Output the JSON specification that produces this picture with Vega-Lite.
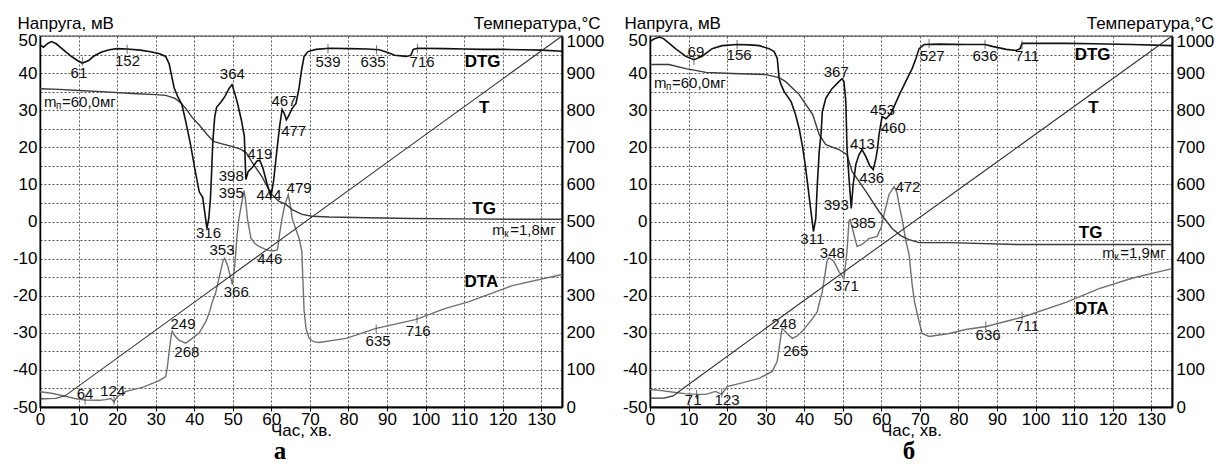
{
  "$schema": "https://vega.github.io/schema/vega-lite/v6.json",
  "background": "white",
  "padding": {"left": 11, "top": 13, "right": 0, "bottom": 0},
  "spacing": 88,
  "bounds": "flush",
  "config": {"font": "Liberation Sans", "view": {"stroke": "#9a9a9a", "strokeWidth": 2}},
  "datasets": {
    "dtg_a": [
      {"t":0,"v":47.6},{"t":0.9,"v":47},{"t":2,"v":48},{"t":3,"v":48.5},{"t":4.2,"v":47.9},{"t":6,"v":46.3},{"t":8,"v":44.6},{"t":10,"v":43.2},{"t":11,"v":42.7},{"t":12.5,"v":43.3},{"t":14,"v":44.6},{"t":16,"v":45.7},{"t":18,"v":46.3},{"t":20,"v":46.6},{"t":22.6,"v":46.5},{"t":26,"v":46.2},{"t":29,"v":45.7},{"t":31,"v":45.2},{"t":32.6,"v":44.5},{"t":33.5,"v":42.5},{"t":34.2,"v":39},{"t":34.8,"v":36},{"t":35.8,"v":33.5},{"t":36.8,"v":31.5},{"t":37.8,"v":27},{"t":39,"v":21},{"t":40.2,"v":14},{"t":41.3,"v":8},{"t":42.2,"v":6.5},{"t":42.8,"v":2},{"t":43.3,"v":-1.9},{"t":43.8,"v":1},{"t":44.2,"v":6},{"t":44.5,"v":13},{"t":44.8,"v":21},{"t":45.3,"v":28},{"t":45.8,"v":30.8},{"t":47,"v":32.3},{"t":48,"v":33.8},{"t":49,"v":35.8},{"t":49.8,"v":36.9},{"t":50.4,"v":35},{"t":51.2,"v":32},{"t":52.2,"v":27.5},{"t":53,"v":23},{"t":53.4,"v":11.3},{"t":54,"v":13.5},{"t":55,"v":14.5},{"t":56.3,"v":16.3},{"t":57,"v":16.5},{"t":57.8,"v":14.5},{"t":58.8,"v":10.5},{"t":59.9,"v":6.7},{"t":60.6,"v":11},{"t":61.5,"v":19.7},{"t":62.2,"v":26},{"t":62.8,"v":30.2},{"t":63.4,"v":29},{"t":63.9,"v":27.4},{"t":64.5,"v":28.5},{"t":65.4,"v":30.5},{"t":66.4,"v":31.8},{"t":67.2,"v":36},{"t":67.8,"v":40.5},{"t":68.5,"v":44.5},{"t":69.5,"v":45.8},{"t":71.6,"v":46.4},{"t":75,"v":46.7},{"t":80,"v":46.6},{"t":85,"v":46.5},{"t":88,"v":46.3},{"t":90,"v":45.6},{"t":92,"v":44.8},{"t":95,"v":44.5},{"t":96.2,"v":44.8},{"t":96.8,"v":46.4},{"t":98,"v":46.7},{"t":105,"v":46.6},{"t":110,"v":46.5},{"t":115,"v":46.4},{"t":120,"v":46.4},{"t":125,"v":46.3},{"t":130,"v":46.2},{"t":135.4,"v":45.9}
    ],
    "tg_a": [
      {"t":0,"v":35.8},{"t":5,"v":35.6},{"t":10,"v":35.3},{"t":16,"v":35},{"t":24,"v":34.5},{"t":30,"v":34.2},{"t":32.6,"v":34},{"t":35,"v":33.2},{"t":36.5,"v":32},{"t":37.8,"v":30.5},{"t":39.5,"v":28},{"t":41.3,"v":26},{"t":43.4,"v":23.4},{"t":45,"v":21.6},{"t":47,"v":21},{"t":50,"v":20.2},{"t":52,"v":19.5},{"t":53.5,"v":18.5},{"t":55,"v":16},{"t":57.6,"v":12},{"t":59.9,"v":7.5},{"t":62,"v":5.4},{"t":63.8,"v":4.6},{"t":65.4,"v":3.2},{"t":67,"v":2.4},{"t":68,"v":1.9},{"t":70.6,"v":1.4},{"t":75,"v":1.2},{"t":85,"v":1},{"t":96.5,"v":0.8},{"t":110,"v":0.7},{"t":125,"v":0.6},{"t":135.4,"v":0.6}
    ],
    "dta_a": [
      {"t":0,"v":-45.9},{"t":3,"v":-46.3},{"t":6.6,"v":-47.1},{"t":9,"v":-47.7},{"t":11.7,"v":-48.1},{"t":15.3,"v":-48.2},{"t":17,"v":-48},{"t":18.4,"v":-47.7},{"t":19.2,"v":-48.6},{"t":20,"v":-47.2},{"t":22.3,"v":-45.8},{"t":26.6,"v":-44.7},{"t":30.9,"v":-42.9},{"t":32.6,"v":-41.8},{"t":33,"v":-39.6},{"t":33.5,"v":-35},{"t":34,"v":-31},{"t":34.3,"v":-29.6},{"t":35,"v":-30.8},{"t":36,"v":-32},{"t":37.8,"v":-32.8},{"t":39.5,"v":-31.5},{"t":41.3,"v":-30},{"t":43,"v":-27},{"t":44,"v":-24.3},{"t":44.7,"v":-21.6},{"t":45.5,"v":-19.5},{"t":46.5,"v":-15},{"t":47.5,"v":-10.5},{"t":47.9,"v":-9.9},{"t":48.7,"v":-12},{"t":49.9,"v":-17},{"t":50.5,"v":-12},{"t":51.1,"v":-4},{"t":51.6,"v":0.8},{"t":52.9,"v":8.3},{"t":53.3,"v":6},{"t":53.8,"v":0.8},{"t":54.7,"v":-4.5},{"t":55.8,"v":-6},{"t":56.8,"v":-6.7},{"t":58.5,"v":-7.5},{"t":59.8,"v":-7.9},{"t":60.8,"v":-7.9},{"t":61.6,"v":-7.6},{"t":62.2,"v":-3},{"t":62.8,"v":0.9},{"t":63.5,"v":4.5},{"t":64.4,"v":7.2},{"t":65,"v":4},{"t":65.4,"v":0.9},{"t":66.5,"v":-2.5},{"t":67.2,"v":-4.5},{"t":67.9,"v":-8},{"t":68.5,"v":-24},{"t":69,"v":-28.8},{"t":69.8,"v":-31.5},{"t":71,"v":-32.4},{"t":72.4,"v":-32.6},{"t":79.4,"v":-31.5},{"t":87.2,"v":-28.8},{"t":97.6,"v":-26.4},{"t":105,"v":-23.5},{"t":111.3,"v":-21.6},{"t":122.5,"v":-17.3},{"t":135.4,"v":-14.3}
    ],
    "t_a": [
      {"t":0,"T":22},{"t":4,"T":23},{"t":6.5,"T":30},{"t":40.5,"T":286},{"t":94,"T":689},{"t":135.4,"T":1000}
    ],
    "tick_a": [
      {"t":11,"v":43.2},{"t":22.6,"v":46.4},{"t":74.7,"v":46.6},{"t":87.3,"v":46.3},{"t":97.9,"v":46.7},{"t":11.7,"v":-48.2},{"t":19.2,"v":-48.2},{"t":87.2,"v":-29},{"t":97.8,"v":-26.3}
    ],
    "lab_a": [
      {"t":10.1,"v":40,"label":"61"},{"t":22.7,"v":43.3,"label":"152"},{"t":49.9,"v":39.7,"label":"364"},{"t":63.3,"v":32.5,"label":"467"},{"t":65.8,"v":24.3,"label":"477"},{"t":57,"v":18.3,"label":"419"},{"t":49.6,"v":12.3,"label":"398"},{"t":49.6,"v":7.6,"label":"395"},{"t":59.4,"v":7.2,"label":"444"},{"t":43.7,"v":-3.2,"label":"316"},{"t":47.2,"v":-7.8,"label":"353"},{"t":50.9,"v":-19.1,"label":"366"},{"t":59.6,"v":-10.2,"label":"446"},{"t":67.2,"v":8.9,"label":"479"},{"t":37.1,"v":-27.7,"label":"249"},{"t":38.1,"v":-35.3,"label":"268"},{"t":11.7,"v":-46.6,"label":"64"},{"t":18.9,"v":-45.6,"label":"124"},{"t":74.7,"v":42.9,"label":"539"},{"t":86.4,"v":43.1,"label":"635"},{"t":99.1,"v":43.1,"label":"716"},{"t":87.7,"v":-32.1,"label":"635"},{"t":98.1,"v":-29.4,"label":"716"}
    ],
    "bold_a": [
      {"t":114.8,"v":43.1,"label":"DTG"},{"t":115.2,"v":30.7,"label":"T"},{"t":115.2,"v":3.4,"label":"TG"},{"t":114.5,"v":-16.4,"label":"DTA"}
    ],
    "m_a": [
      {"t":1.04,"v":32.3,"m":"m","sub":"п","rest":"=60,0мг"},{"t":117.3,"v":-2.2,"m":"m","sub":"к","rest":"=1,8мг"}
    ],
    "dtg_b": [
      {"t":0,"v":48.5},{"t":1,"v":49.2},{"t":2.4,"v":49.7},{"t":3.5,"v":49.3},{"t":5,"v":48},{"t":6.6,"v":46.6},{"t":9.3,"v":44.5},{"t":11.4,"v":43.6},{"t":13.5,"v":44.5},{"t":16.1,"v":46.6},{"t":18.7,"v":47.4},{"t":22.6,"v":47.7},{"t":26,"v":47.6},{"t":28.3,"v":47.4},{"t":30.9,"v":46.6},{"t":32.2,"v":45.8},{"t":33,"v":44},{"t":33.5,"v":38.5},{"t":34,"v":36.9},{"t":34.8,"v":35},{"t":36.6,"v":32.3},{"t":37.7,"v":29},{"t":38.7,"v":25},{"t":39.6,"v":20},{"t":40.3,"v":15},{"t":40.9,"v":10},{"t":41.6,"v":4},{"t":42.4,"v":-2.7},{"t":43,"v":0.8},{"t":43.4,"v":10},{"t":43.9,"v":18.9},{"t":44.4,"v":24},{"t":44.7,"v":29.6},{"t":45.6,"v":33.2},{"t":47.2,"v":35.8},{"t":49,"v":37.7},{"t":49.8,"v":38.5},{"t":50.3,"v":37.7},{"t":50.8,"v":32.3},{"t":51.1,"v":19.7},{"t":51.6,"v":12},{"t":52.2,"v":3.5},{"t":52.7,"v":10},{"t":53.4,"v":15.4},{"t":54.2,"v":18},{"t":55,"v":19.4},{"t":56,"v":17.5},{"t":57,"v":15},{"t":57.9,"v":14},{"t":58.6,"v":17},{"t":59,"v":19.5},{"t":59.4,"v":23.4},{"t":60.2,"v":28.3},{"t":61.2,"v":27.7},{"t":62.5,"v":29.1},{"t":64.6,"v":34},{"t":66.7,"v":38.5},{"t":68,"v":41.2},{"t":69,"v":44},{"t":69.8,"v":46.6},{"t":71.1,"v":47.7},{"t":75,"v":47.8},{"t":82,"v":47.7},{"t":86.9,"v":47.7},{"t":88.8,"v":47.2},{"t":92.4,"v":46.4},{"t":95,"v":46.1},{"t":96,"v":46.6},{"t":96.5,"v":48},{"t":100,"v":48},{"t":108,"v":48},{"t":115,"v":47.9},{"t":125,"v":47.7},{"t":135.4,"v":47.4}
    ],
    "tg_b": [
      {"t":0,"v":42.3},{"t":4.9,"v":42.3},{"t":9.3,"v":41.2},{"t":14.5,"v":40.2},{"t":21.3,"v":39.9},{"t":30.1,"v":39.6},{"t":33.5,"v":38.8},{"t":35.2,"v":37.7},{"t":38.7,"v":34.2},{"t":42.2,"v":28.8},{"t":43.9,"v":23.4},{"t":45.6,"v":20.7},{"t":49,"v":19.4},{"t":51.1,"v":18},{"t":52.4,"v":13.5},{"t":56,"v":8.1},{"t":59.4,"v":2.7},{"t":62.8,"v":-1.9},{"t":65,"v":-3.8},{"t":67.2,"v":-4.9},{"t":69.8,"v":-5.7},{"t":77.6,"v":-5.7},{"t":95,"v":-6.2},{"t":135.4,"v":-6.2}
    ],
    "dta_b": [
      {"t":0,"v":-45.3},{"t":3,"v":-45.6},{"t":6.6,"v":-46.1},{"t":9,"v":-46.4},{"t":12.2,"v":-46.6},{"t":14.5,"v":-46.6},{"t":17,"v":-45.8},{"t":18.6,"v":-46.6},{"t":20,"v":-44.5},{"t":23.1,"v":-43.7},{"t":28.3,"v":-42.3},{"t":31.7,"v":-40.4},{"t":33,"v":-37.7},{"t":34,"v":-30.5},{"t":34.3,"v":-28.8},{"t":35.6,"v":-30.2},{"t":36.9,"v":-31.5},{"t":38,"v":-31},{"t":39.5,"v":-29.6},{"t":42.2,"v":-26.1},{"t":43.4,"v":-24.3},{"t":44,"v":-21.6},{"t":44.7,"v":-18.9},{"t":45.9,"v":-10.8},{"t":46.4,"v":-9.7},{"t":47.7,"v":-10.8},{"t":49,"v":-13.5},{"t":50.3,"v":-15.4},{"t":51.1,"v":-8.1},{"t":51.6,"v":0},{"t":51.9,"v":0.5},{"t":52.9,"v":-3.5},{"t":53.7,"v":-6.7},{"t":55,"v":-6.2},{"t":56.8,"v":-4.6},{"t":58.9,"v":-4},{"t":60,"v":-1.5},{"t":60.7,"v":1.9},{"t":62,"v":7.3},{"t":63.3,"v":9.4},{"t":64,"v":8},{"t":64.6,"v":4.6},{"t":65.4,"v":0.5},{"t":66.4,"v":-5.4},{"t":67.2,"v":-8.9},{"t":68,"v":-17},{"t":68.6,"v":-21.6},{"t":69.2,"v":-24.3},{"t":69.8,"v":-27},{"t":70.6,"v":-30.2},{"t":72.4,"v":-31},{"t":77.6,"v":-30.2},{"t":81.9,"v":-29.1},{"t":87.2,"v":-28.3},{"t":96.5,"v":-25.8},{"t":107.9,"v":-21.8},{"t":116.5,"v":-18.1},{"t":125,"v":-15.3},{"t":135.4,"v":-12.7}
    ],
    "t_b": [
      {"t":0,"T":24},{"t":3.6,"T":24},{"t":6,"T":30},{"t":8.3,"T":48},{"t":39.4,"T":283},{"t":89.8,"T":659},{"t":135.4,"T":1000}
    ],
    "tick_b": [
      {"t":11.4,"v":43.3},{"t":22.6,"v":47.7},{"t":72.4,"v":48},{"t":86.9,"v":47.8},{"t":96.5,"v":47.6},{"t":12.1,"v":-46.6},{"t":18.6,"v":-46.2},{"t":87.1,"v":-28.1},{"t":96.5,"v":-25.5}
    ],
    "lab_b": [
      {"t":11.9,"v":45.8,"label":"69"},{"t":23.1,"v":45,"label":"156"},{"t":48.3,"v":40.2,"label":"367"},{"t":55.1,"v":20.8,"label":"413"},{"t":60.3,"v":30.1,"label":"453"},{"t":63.1,"v":25.2,"label":"460"},{"t":57.5,"v":11.7,"label":"436"},{"t":48.3,"v":4.5,"label":"393"},{"t":42.1,"v":-4.7,"label":"311"},{"t":55.3,"v":-0.3,"label":"385"},{"t":66.9,"v":9.4,"label":"472"},{"t":47.3,"v":-8.5,"label":"348"},{"t":50.9,"v":-17.5,"label":"371"},{"t":34.7,"v":-27.7,"label":"248"},{"t":37.8,"v":-34.8,"label":"265"},{"t":11.2,"v":-48,"label":"71"},{"t":20,"v":-48.2,"label":"123"},{"t":73.2,"v":44.5,"label":"527"},{"t":86.9,"v":44.5,"label":"636"},{"t":97.8,"v":44.5,"label":"711"},{"t":87.7,"v":-30.5,"label":"636"},{"t":97.8,"v":-28.3,"label":"711"}
    ],
    "bold_b": [
      {"t":114.8,"v":44.9,"label":"DTG"},{"t":115,"v":30.7,"label":"T"},{"t":114.3,"v":-3.1,"label":"TG"},{"t":114.6,"v":-23.5,"label":"DTA"}
    ],
    "m_b": [
      {"t":1.04,"v":37.2,"m":"m","sub":"п","rest":"=60,0мг"},{"t":117.3,"v":-8.6,"m":"m","sub":"к","rest":"=1,9мг"}
    ]
  },
  "hconcat": [
    {
      "width": 522, "height": 371,
      "title": {"text": "а", "orient": "bottom", "font": "Liberation Serif", "fontSize": 25, "fontWeight": "bold", "color": "#000", "dx": -21, "offset": 1},
      "encoding": {"x": {"field": "t", "type": "quantitative", "scale": {"domain": [0, 135.4], "nice": false, "zero": false},
        "axis": {"values": [0,10,20,30,40,50,60,70,80,90,100,110,120,130], "grid": true, "gridDash": [2,2], "gridColor": "#555", "domainColor": "#000", "domainWidth": 2, "tickColor": "#000", "tickSize": 4, "labelPadding": 0, "labelFontSize": 17, "labelColor": "#000", "labelFlush": false, "title": "Час, хв.", "titleFontSize": 17, "titleFontWeight": "normal", "titleColor": "#000", "titleBaseline": "middle", "titleY": 23}}},
      "layer": [
        {
          "encoding": {"y": {"field": "v", "type": "quantitative", "scale": {"domain": [-50, 50], "nice": false, "zero": false},
            "axis": {"values": [-50,-45,-40,-35,-30,-25,-20,-15,-10,-5,0,5,10,15,20,25,30,35,40,45,50], "labelExpr": "datum.value % 10 === 0 ? '' + datum.value : ''", "labelOffset": {"condition": {"test": "datum.value === 50", "value": 4}, "value": 0}, "grid": true, "gridDash": [2,2], "gridColor": "#555", "domainColor": "#000", "domainWidth": 1.5, "ticks": false, "labelPadding": 3, "labelFontSize": 17, "labelColor": "#000", "title": "Напруга, мВ", "titleAngle": 0, "titleAlign": "left", "titleBaseline": "middle", "titleX": -23, "titleY": -13, "titleFontSize": 17, "titleFontWeight": "normal", "titleColor": "#000"}}},
          "layer": [
            {"data": {"name": "dta_a"}, "mark": {"type": "line", "color": "#707070", "strokeWidth": 1.4}, "encoding": {}},
            {"data": {"name": "tg_a"}, "mark": {"type": "line", "color": "#3a3a3a", "strokeWidth": 1.4}, "encoding": {}},
            {"data": {"name": "dtg_a"}, "mark": {"type": "line", "color": "#111", "strokeWidth": 1.6}, "encoding": {}},
            {"data": {"name": "tick_a"}, "mark": {"type": "tick", "orient": "vertical", "size": 9, "thickness": 1, "color": "#333"}},
            {"data": {"name": "lab_a"}, "mark": {"type": "text", "fontSize": 15, "color": "#111"}, "encoding": {"text": {"field": "label"}}},
            {"data": {"name": "bold_a"}, "mark": {"type": "text", "fontSize": 17, "fontWeight": "bold", "color": "#000"}, "encoding": {"text": {"field": "label"}}},
            {"data": {"name": "m_a"}, "mark": {"type": "text", "fontSize": 15, "align": "left", "color": "#111"}, "encoding": {"text": {"field": "m"}}},
            {"data": {"name": "m_a"}, "mark": {"type": "text", "fontSize": 10, "align": "left", "dx": 12, "dy": 4, "color": "#111"}, "encoding": {"text": {"field": "sub"}}},
            {"data": {"name": "m_a"}, "mark": {"type": "text", "fontSize": 15, "align": "left", "dx": 18, "color": "#111"}, "encoding": {"text": {"field": "rest"}}}
          ]
        },
        {
          "data": {"name": "t_a"},
          "mark": {"type": "line", "color": "#333", "strokeWidth": 1.1},
          "encoding": {"y": {"field": "T", "type": "quantitative", "scale": {"domain": [0, 1000], "nice": false, "zero": false},
            "axis": {"orient": "right", "values": [0,100,200,300,400,500,600,700,800,900,1000], "labelExpr": "'' + datum.value", "labelOffset": {"condition": {"test": "datum.value === 1000", "value": 5}, "value": 0}, "grid": false, "domainColor": "#000", "domainWidth": 2, "ticks": false, "labelPadding": 4, "labelFontSize": 17, "labelColor": "#000", "title": "Температура,°C", "titleAngle": 0, "titleAlign": "right", "titleBaseline": "middle", "titleX": 38, "titleY": -13, "titleFontSize": 17, "titleFontWeight": "normal", "titleColor": "#000"}}}
        }
      ],
      "resolve": {"scale": {"y": "independent"}}
    },
    {
      "width": 522, "height": 371,
      "title": {"text": "б", "orient": "bottom", "font": "Liberation Serif", "fontSize": 25, "fontWeight": "bold", "color": "#000", "dx": -2, "offset": 1},
      "encoding": {"x": {"field": "t", "type": "quantitative", "scale": {"domain": [0, 135.4], "nice": false, "zero": false},
        "axis": {"values": [0,10,20,30,40,50,60,70,80,90,100,110,120,130], "grid": true, "gridDash": [2,2], "gridColor": "#555", "domainColor": "#000", "domainWidth": 2, "tickColor": "#000", "tickSize": 4, "labelPadding": 0, "labelFontSize": 17, "labelColor": "#000", "labelFlush": false, "title": "Час, хв.", "titleFontSize": 17, "titleFontWeight": "normal", "titleColor": "#000", "titleBaseline": "middle", "titleY": 23}}},
      "layer": [
        {
          "encoding": {"y": {"field": "v", "type": "quantitative", "scale": {"domain": [-50, 50], "nice": false, "zero": false},
            "axis": {"values": [-50,-45,-40,-35,-30,-25,-20,-15,-10,-5,0,5,10,15,20,25,30,35,40,45,50], "labelExpr": "datum.value % 10 === 0 ? '' + datum.value : ''", "labelOffset": {"condition": {"test": "datum.value === 50", "value": 4}, "value": 0}, "grid": true, "gridDash": [2,2], "gridColor": "#555", "domainColor": "#000", "domainWidth": 1.5, "ticks": false, "labelPadding": 3, "labelFontSize": 17, "labelColor": "#000", "title": "Напруга, мВ", "titleAngle": 0, "titleAlign": "left", "titleBaseline": "middle", "titleX": -26, "titleY": -13, "titleFontSize": 17, "titleFontWeight": "normal", "titleColor": "#000"}}},
          "layer": [
            {"data": {"name": "dta_b"}, "mark": {"type": "line", "color": "#707070", "strokeWidth": 1.4}, "encoding": {}},
            {"data": {"name": "tg_b"}, "mark": {"type": "line", "color": "#3a3a3a", "strokeWidth": 1.4}, "encoding": {}},
            {"data": {"name": "dtg_b"}, "mark": {"type": "line", "color": "#111", "strokeWidth": 1.6}, "encoding": {}},
            {"data": {"name": "tick_b"}, "mark": {"type": "tick", "orient": "vertical", "size": 9, "thickness": 1, "color": "#333"}},
            {"data": {"name": "lab_b"}, "mark": {"type": "text", "fontSize": 15, "color": "#111"}, "encoding": {"text": {"field": "label"}}},
            {"data": {"name": "bold_b"}, "mark": {"type": "text", "fontSize": 17, "fontWeight": "bold", "color": "#000"}, "encoding": {"text": {"field": "label"}}},
            {"data": {"name": "m_b"}, "mark": {"type": "text", "fontSize": 15, "align": "left", "color": "#111"}, "encoding": {"text": {"field": "m"}}},
            {"data": {"name": "m_b"}, "mark": {"type": "text", "fontSize": 10, "align": "left", "dx": 12, "dy": 4, "color": "#111"}, "encoding": {"text": {"field": "sub"}}},
            {"data": {"name": "m_b"}, "mark": {"type": "text", "fontSize": 15, "align": "left", "dx": 18, "color": "#111"}, "encoding": {"text": {"field": "rest"}}}
          ]
        },
        {
          "data": {"name": "t_b"},
          "mark": {"type": "line", "color": "#333", "strokeWidth": 1.1},
          "encoding": {"y": {"field": "T", "type": "quantitative", "scale": {"domain": [0, 1000], "nice": false, "zero": false},
            "axis": {"orient": "right", "values": [0,100,200,300,400,500,600,700,800,900,1000], "labelExpr": "'' + datum.value", "labelOffset": {"condition": {"test": "datum.value === 1000", "value": 5}, "value": 0}, "grid": false, "domainColor": "#000", "domainWidth": 2, "ticks": false, "labelPadding": 4, "labelFontSize": 17, "labelColor": "#000", "title": "Температура,°C", "titleAngle": 0, "titleAlign": "right", "titleBaseline": "middle", "titleX": 41, "titleY": -13, "titleFontSize": 17, "titleFontWeight": "normal", "titleColor": "#000"}}}
        }
      ],
      "resolve": {"scale": {"y": "independent"}}
    }
  ]
}
